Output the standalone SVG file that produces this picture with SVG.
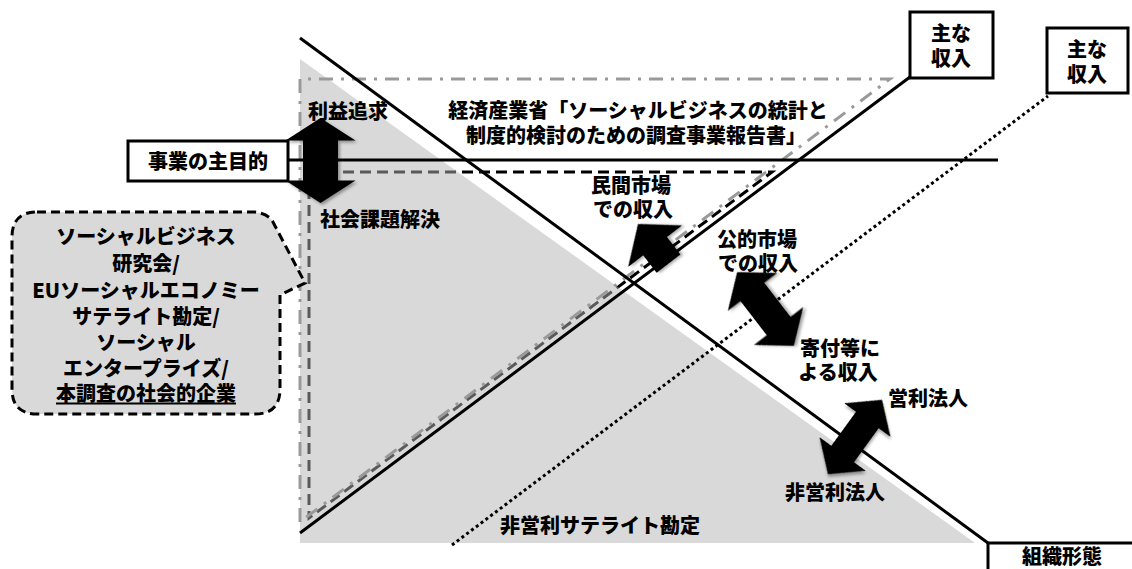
<svg xmlns="http://www.w3.org/2000/svg" width="1132" height="569" viewBox="0 0 1132 569">
<defs>
<style>
.t{font-family:"Noto Sans CJK JP","Noto Sans CJK SC",sans-serif;font-weight:900;font-size:20px;fill:#000;text-anchor:middle;dominant-baseline:central}
.ln{fill:none;stroke:#000;stroke-width:3}
.box{fill:#fff;stroke:#000;stroke-width:3}
.arr{fill:#000;filter:url(#sh)}
</style>
<filter id="sh" x="-30%" y="-30%" width="160%" height="160%">
<feDropShadow dx="2" dy="2" stdDeviation="1.5" flood-color="#000" flood-opacity="0.35"/>
</filter>
</defs>
<rect width="1132" height="569" fill="#fff"/>

<g id="region-dashed-black">
<path d="M309,172 L772,172 L309,518 Z" fill="none" stroke="#000" stroke-width="3" stroke-dasharray="11,6"/>
</g>
<g id="region-gray">
<path d="M300,59 L975,543 L300,543 Z" fill="#b3b3b3" fill-opacity="0.5"/>
</g>
<g id="region-meti">
<path d="M300,522 L300,79 L890,79 L300,522" fill="none" stroke="#9a9a9a" stroke-width="3" stroke-dasharray="14,8,3,8"/>
</g>

<g id="connectors">
<line class="ln" x1="300" y1="38" x2="988" y2="543"/>
<line class="ln" x1="300" y1="533" x2="910" y2="77"/>
<line class="ln" x1="452" y1="545" x2="1048" y2="96" stroke-dasharray="3,3"/>
<line class="ln" x1="288" y1="160" x2="998" y2="160"/>
</g>

<g id="arrow-purpose">
<path class="arr" d="M0,-42.5 L35,-20 L17.5,-20 L17.5,20 L35,20 L0,42.5 L-35,20 L-17.5,20 L-17.5,-20 L-35,-20 Z" transform="translate(320.5,160.5)"/>
</g>
<g id="arrow-private">
<path class="arr" d="M0,0 L34,28 L15,28 L15,50 L-15,50 L-15,28 L-34,28 Z" transform="translate(638,224) rotate(-37.6)"/>
</g>
<g id="arrow-public">
<path class="arr" d="M0,-46.5 L31,-21.5 L15,-21.5 L15,21.5 L31,21.5 L0,46.5 L-31,21.5 L-15,21.5 L-15,-21.5 L-31,-21.5 Z" transform="translate(765.5,309) rotate(-37.6)"/>
</g>
<g id="arrow-corp">
<path class="arr" d="M0,-46 L28.5,-21 L14,-21 L14,21 L28.5,21 L0,46 L-28.5,21 L-14,21 L-14,-21 L-28.5,-21 Z" transform="translate(855,437) rotate(36)"/>
</g>

<g id="node-purpose">
<rect class="box" x="128" y="141" width="160" height="40"/>
<text class="t" x="208" y="160">事業の主目的</text>
</g>
<g id="node-income1">
<rect class="box" x="910" y="12" width="83" height="66"/>
<text class="t" x="951" y="32">主な</text>
<text class="t" x="951" y="57">収入</text>
</g>
<g id="node-income2">
<rect class="box" x="1047" y="28" width="81" height="65"/>
<text class="t" x="1087" y="48">主な</text>
<text class="t" x="1087" y="73">収入</text>
</g>
<g id="node-form">
<rect class="box" x="988" y="543" width="150" height="40"/>
<text class="t" x="1062" y="555" font-size="19">組織形態</text>
</g>

<g id="node-callout">
<path d="M37,212 L255,212 Q270,214 274,224 L305,283 L280,295 L280,389 Q280,414 255,414 L37,414 Q12,414 12,389 L12,237 Q12,212 37,212 Z" fill="#d9d9d9" stroke="#000" stroke-width="3" stroke-dasharray="9,5"/>
<text class="t" x="146" y="235">ソーシャルビジネス</text>
<text class="t" x="146" y="262">研究会/</text>
<text class="t" x="146" y="289">EUソーシャルエコノミー</text>
<text class="t" x="146" y="315">サテライト勘定/</text>
<text class="t" x="146" y="341">ソーシャル</text>
<text class="t" x="146" y="367">エンタープライズ/</text>
<text class="t" x="146" y="392" text-decoration="underline">本調査の社会的企業</text>
</g>

<g id="labels">
<text class="t" x="348" y="110">利益追求</text>
<text class="t" x="380" y="218">社会課題解決</text>
<text class="t" x="638" y="109">経済産業省「ソーシャルビジネスの統計と</text>
<text class="t" x="636" y="134">制度的検討のための調査事業報告書」</text>
<text class="t" x="631" y="184">民間市場</text>
<text class="t" x="633" y="208">での収入</text>
<text class="t" x="757" y="238">公的市場</text>
<text class="t" x="758" y="262">での収入</text>
<text class="t" x="840" y="347">寄付等に</text>
<text class="t" x="838" y="371">よる収入</text>
<text class="t" x="928" y="397">営利法人</text>
<text class="t" x="835" y="491">非営利法人</text>
<text class="t" x="600" y="524">非営利サテライト勘定</text>
</g>
</svg>
